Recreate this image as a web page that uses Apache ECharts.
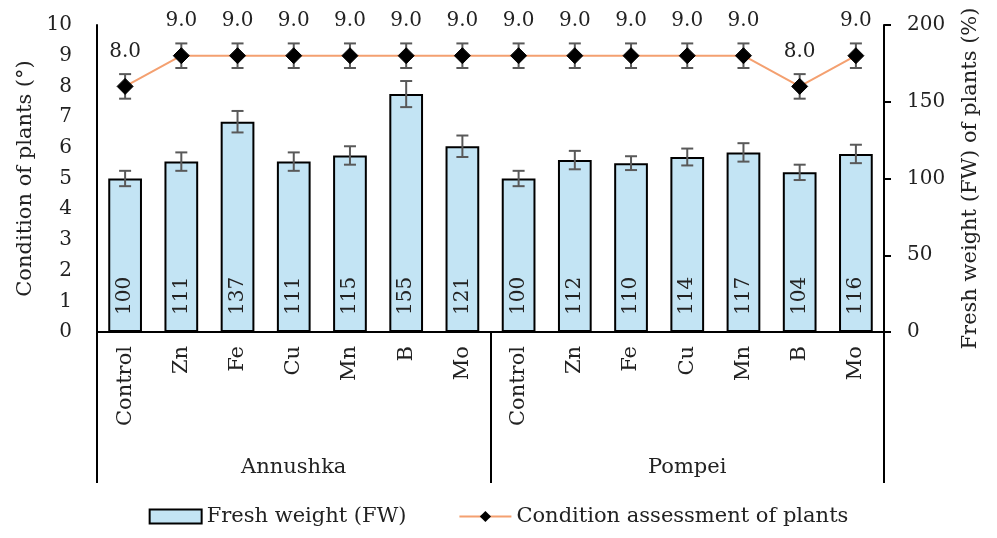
<!DOCTYPE html>
<html>
<head>
<meta charset="utf-8">
<script src="https://cdn.jsdelivr.net/npm/echarts@6/dist/echarts.min.js"></script>
<style>html,body{margin:0;padding:0;background:#fff;}#c{width:997px;height:538px;}</style>
</head>
<body>
<div id="c"></div>
<script>
const categories = ['Control','Zn','Fe','Cu','Mn','B','Mo','Control','Zn','Fe','Cu','Mn','B','Mo'];
const groups = ['Annushka','Pompei'];
const freshWeight = [100,111,137,111,115,155,121,100,112,110,114,117,104,116];
const freshWeightErr = [5,6,7,6,6,8.5,7,5,6,4.5,5.5,6,5,6];
const condition = [8,9,9,9,9,9,9,9,9,9,9,9,8,9];
const conditionErr = [0.4,0.4,0.4,0.4,0.4,0.4,0.4,0.4,0.4,0.4,0.4,0.4,0.4,0.4];
const leftTicks = {min:0, max:10, interval:1};
const rightTicks = {min:0, max:200, interval:50};

const FONT = 'DejaVu Serif';
const chart = echarts.init(document.getElementById('c'), null, {renderer:'canvas'});

function errorItem(params, api) {
  const x = api.value(0), y = api.value(1), e = api.value(2);
  const top = api.coord([x, y + e]);
  const bot = api.coord([x, y - e]);
  const h = 6;
  const style = {stroke:'#595959', lineWidth:2};
  return {type:'group', children:[
    {type:'line', shape:{x1:top[0], y1:top[1], x2:bot[0], y2:bot[1]}, style},
    {type:'line', shape:{x1:top[0]-h, y1:top[1], x2:top[0]+h, y2:top[1]}, style},
    {type:'line', shape:{x1:bot[0]-h, y1:bot[1], x2:bot[0]+h, y2:bot[1]}, style}
  ]};
}

const option = {
  animation:false,
  textStyle:{fontFamily:FONT, color:'#222'},
  grid:{left:97, right:113, top:25, bottom:206},
  legend:{
    bottom:6, left:'center', itemGap:52, itemWidth:52, itemHeight:14,
    textStyle:{fontFamily:FONT, fontSize:21, color:'#222'},
    data:[{name:'Fresh weight (FW)', icon:'rect'},'Condition assessment of plants']
  },
  xAxis:[
    {type:'category', data:categories, position:'bottom',
     axisLine:{show:true, lineStyle:{color:'#000', width:2}},
     axisTick:{show:false},
     axisLabel:{rotate:90, fontSize:21, fontFamily:FONT, color:'#222', margin:14, interval:0}
    },
    {type:'category', data:groups, position:'bottom',
     axisLine:{show:false},
     axisTick:{show:true, length:151, lineStyle:{color:'#000', width:2}},
     axisLabel:{fontSize:21, fontFamily:FONT, color:'#222', margin:125}
    }
  ],
  yAxis:[
    {type:'value', position:'left', min:leftTicks.min, max:leftTicks.max, interval:leftTicks.interval,
     name:'Condition of plants (°)', nameLocation:'middle', nameGap:60, nameRotate:90,
     nameTextStyle:{fontSize:21, fontFamily:FONT, color:'#222'},
     axisLine:{show:true, lineStyle:{color:'#000', width:2}},
     axisTick:{show:false}, splitLine:{show:false},
     axisLabel:{fontSize:20, fontFamily:FONT, color:'#222', margin:25}
    },
    {type:'value', position:'right', min:rightTicks.min, max:rightTicks.max, interval:rightTicks.interval,
     name:'Fresh weight (FW) of plants (%)', nameLocation:'middle', nameGap:76, nameRotate:90,
     nameTextStyle:{fontSize:21, fontFamily:FONT, color:'#222'},
     axisLine:{show:true, lineStyle:{color:'#000', width:2}},
     axisTick:{show:true, length:7, lineStyle:{color:'#000', width:2}}, splitLine:{show:false},
     axisLabel:{fontSize:20, fontFamily:FONT, color:'#222', margin:23}
    }
  ],
  series:[
    {name:'Fresh weight (FW)', type:'bar', xAxisIndex:0, yAxisIndex:1, data:freshWeight,
     barWidth:'60%',
     itemStyle:{color:'#C3E4F4', borderColor:'#000', borderWidth:2},
     label:{show:true, position:'insideBottom', rotate:90, align:'left', verticalAlign:'middle',
            distance:17, fontSize:20, fontFamily:FONT, color:'#222', formatter:'{c}'},
     z:2
    },
    {name:'fwErr', type:'custom', xAxisIndex:0, yAxisIndex:1,
     data:freshWeight.map((v,i)=>[i, v, freshWeightErr[i]]),
     renderItem:errorItem, z:3, silent:true, encode:{x:0, y:1}
    },
    {name:'condErr', type:'custom', xAxisIndex:0, yAxisIndex:0,
     data:condition.map((v,i)=>[i, v, conditionErr[i]]),
     renderItem:errorItem, z:4, silent:true, encode:{x:0, y:1}
    },
    {name:'Condition assessment of plants', type:'line', xAxisIndex:0, yAxisIndex:0, data:condition,
     symbol:'diamond', symbolSize:16, showAllSymbol:true,
     lineStyle:{color:'#F4A070', width:2},
     itemStyle:{color:'#000', borderColor:'#000'},
     label:{show:true, position:'top', distance:16, fontSize:20, fontFamily:FONT, color:'#222',
            formatter:p=>Number(p.value).toFixed(1)},
     z:5
    }
  ]
};
chart.setOption(option);
</script>
</body>
</html>
